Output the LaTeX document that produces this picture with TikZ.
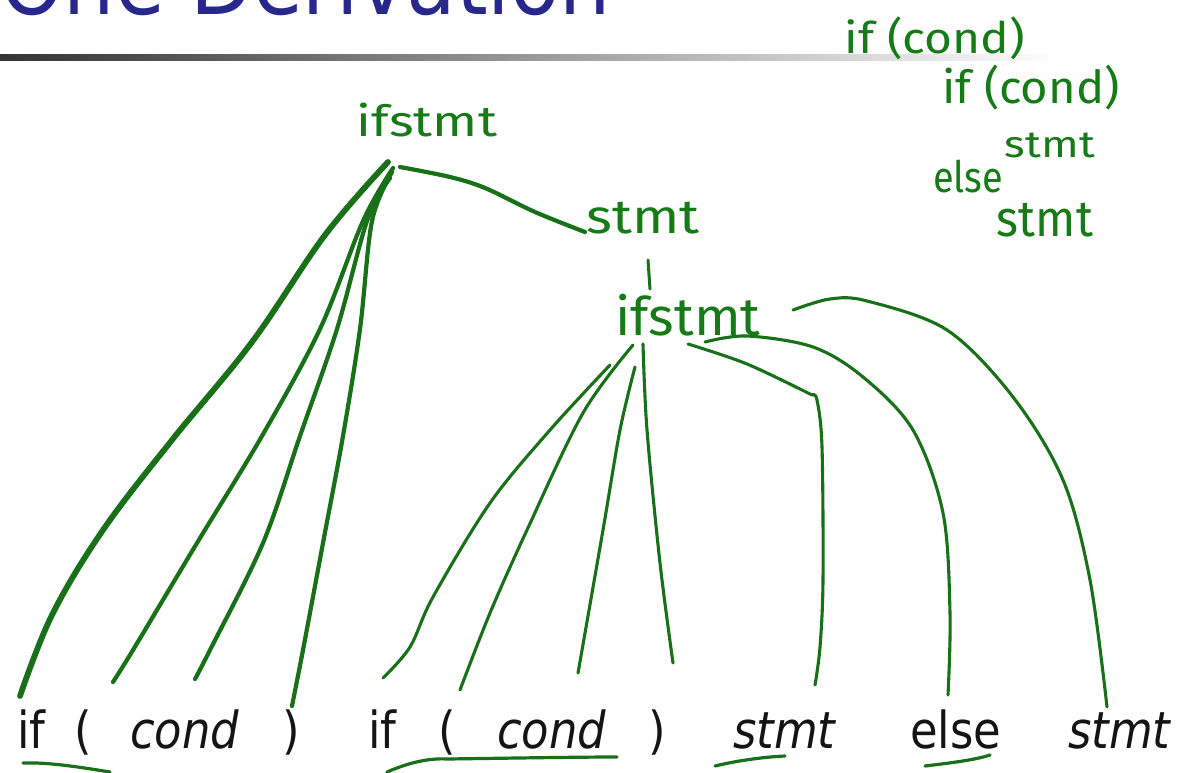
\documentclass[tikz,border=0pt]{standalone}
\usepackage{fontspec}
\newfontfamily\slidefont{DejaVu Sans}[FakeStretch=0.88]
\newfontfamily\hwfont{Fira Sans}
\definecolor{titleblue}{RGB}{40,40,140}
\definecolor{inkgreen}{RGB}{24,112,24}
\definecolor{hwgreen}{RGB}{22,122,22}
\newcommand{\hwtext}[3]{\resizebox*{#1}{#2}{\hwfont #3}}
\begin{document}
\begin{tikzpicture}[x=1pt,y=-1pt,
  hw/.style={inner sep=0pt, text=hwgreen},
  word/.style={anchor=base west, inner sep=0pt, text=black!92, font=\slidefont\fontsize{51}{60}\selectfont},
  iword/.style={anchor=base west, inner sep=0pt, text=black!92, font=\slidefont\itshape\fontsize{51}{60}\selectfont},
  branch/.style={draw=inkgreen, line width=3.1pt, line cap=round, line join=round},
  thickbranch/.style={branch, line width=4.2pt},
  heavybranch/.style={branch, line width=5.8pt},
  uline/.style={branch, line width=3.2pt}]
\useasboundingbox (0,0) rectangle (1183,773);
\clip (0,0) rectangle (1183,773);
\fill[white] (0,0) rectangle (1183,773);

% title and rule
\node[anchor=base west, inner sep=0pt, text=titleblue, font=\slidefont\fontsize{92}{100}\selectfont] (title) at (0,15) {One Derivation};
\shade[left color=black!80, right color=white] (0,55) rectangle (1060,61);

% handwritten notes (top right)
\node[hw] (n1) at (935,38) {\hwtext{180pt}{43pt}{if (cond)}};
\node[hw] (n2) at (1031,88) {\hwtext{177pt}{45pt}{if (cond)}};
\node[hw] (n3) at (1050,145) {\hwtext{90pt}{25pt}{stmt}};
\node[hw] (n4) at (968,177) {\hwtext{70pt}{33pt}{else}};
\node[hw] (n5) at (1045,220) {\hwtext{96pt}{34pt}{stmt}};

% tree labels
\node[hw] (root) at (427,120) {\hwtext{140pt}{34pt}{ifstmt}};
\node[hw] (st) at (643,218) {\hwtext{113pt}{32pt}{stmt}};
\node[hw] (inner) at (688,315) {\hwtext{145pt}{42pt}{ifstmt}};

% bottom sentence
\node[word] (w1) at (17,748) {if};
\node[word] (w2) at (74,748) {(};
\node[iword] (w3) at (130,748) {cond};
\node[word] (w4) at (282,748) {)};
\node[word] (w5) at (368,748) {if};
\node[word] (w6) at (438,748) {(};
\node[iword] (w7) at (497,748) {cond};
\node[word] (w8) at (648,748) {)};
\node[iword] (w9) at (733,748) {stmt};
\node[word] (w10) at (910,748) {else};
\node[iword] (w11) at (1068,748) {stmt};

% connector end points
\coordinate (r1) at (388,162);
\coordinate (r2) at (393,168);
\coordinate (r3) at (390,178);
\coordinate (r4) at (392,172);
\coordinate (r5) at (400,167);
\coordinate (b1) at (20,696);
\coordinate (b2) at (113,682);
\coordinate (b3) at (195,679);
\coordinate (b4) at (292,706);
\coordinate (s1) at (585,232);
\coordinate (t1) at (648,260);
\coordinate (t2) at (650,289);
\coordinate (i1) at (610,365);
\coordinate (i2) at (633,345);
\coordinate (i3) at (635,367);
\coordinate (i4) at (643,344);
\coordinate (i5) at (688,344);
\coordinate (i6) at (705,342);
\coordinate (i7) at (793,310);
\coordinate (c1) at (383,678);
\coordinate (c2) at (460,690);
\coordinate (c3) at (578,673);
\coordinate (c4) at (673,663);
\coordinate (c5) at (815,685);
\coordinate (c6) at (948,695);
\coordinate (c7) at (1107,707);
\coordinate (k5) at (812,395);

% top ifstmt branches
\draw[heavybranch] plot[smooth, tension=0.6] coordinates {(r1) (325,235) (252,342) (172,440) (103,530) (52,615) (b1)};
\draw[thickbranch] plot[smooth, tension=0.55] coordinates {(r2) (363,221) (320,329) (262,436) (197,543) (133,650) (b2)};
\draw[thickbranch] plot[smooth, tension=0.55] coordinates {(r3) (367,221) (337,329) (300,436) (263,543) (210,650) (b3)};
\draw[thickbranch] plot[smooth, tension=0.55] coordinates {(r4) (372,221) (360,329) (343,436) (323,543) (303,650) (b4)};
\draw[thickbranch] plot[smooth, tension=0.55] coordinates {(r5) (450,177) (485,188) (535,212) (s1)};
\draw[branch, line width=3pt] (t1) -- (t2);

% inner ifstmt branches
\draw[branch] plot[smooth, tension=0.55] coordinates {(i1) (550,430) (490,503) (433,597) (410,647) (c1)};
\draw[branch] plot[smooth, tension=0.55] coordinates {(i2) (583,413) (527,530) (490,613) (c2)};
\draw[branch] plot[smooth, tension=0.55] coordinates {(i3) (620,430) (603,530) (c3)};
\draw[branch] plot[smooth, tension=0.55] coordinates {(i4) (647,430) (660,563) (c4)};
\draw[branch] plot[smooth, tension=0.55] coordinates {(i5) (747,364) (k5)};
\draw[branch] plot[smooth, tension=0.55] coordinates {(k5) (817,400) (822,447) (823,580) (820,647) (c5)};
\draw[branch] plot[smooth, tension=0.55] coordinates {(i6) (747,336) (813,347) (863,377) (913,430) (943,513) (950,613) (c6)};
\draw[branch] plot[smooth, tension=0.55] coordinates {(i7) (830,299) (867,301) (947,330) (1013,397) (1063,480) (1090,580) (c7)};

% underlines
\coordinate (u1a) at (23,763); \coordinate (u1b) at (110,772);
\coordinate (u2a) at (387,772); \coordinate (u2b) at (617,757);
\coordinate (u3a) at (715,766); \coordinate (u3b) at (785,756);
\coordinate (u4a) at (925,766); \coordinate (u4b) at (990,755);
\draw[uline] (u1a) .. controls (50,762) and (85,768) .. (u1b);
\draw[uline] (u2a) .. controls (410,762) and (430,758) .. (447,759) .. controls (520,758) and (580,757) .. (u2b);
\draw[uline] (u3a) .. controls (740,760) and (765,757) .. (u3b);
\draw[uline] (u4a) .. controls (950,763) and (975,760) .. (u4b);
\end{tikzpicture}
\end{document}
